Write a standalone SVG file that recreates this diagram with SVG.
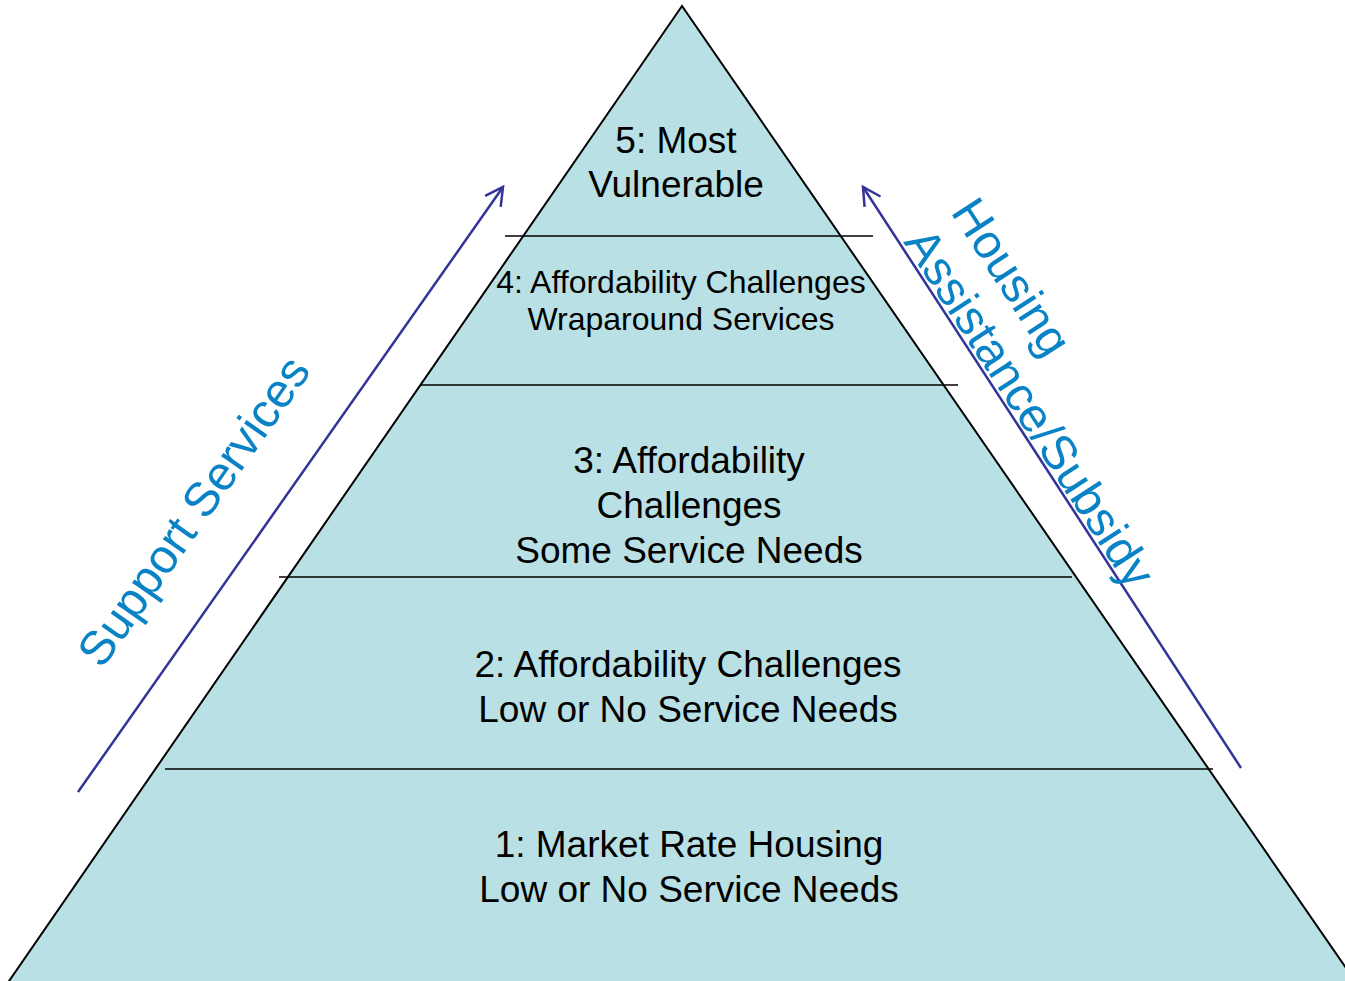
<svg xmlns="http://www.w3.org/2000/svg" width="1345" height="981" viewBox="0 0 1345 981">
<style>
.tier{font-family:"Liberation Sans",Arial,sans-serif;font-size:37px;fill:#000;text-anchor:middle}
.small{font-size:32px}
.side{font-family:"Liberation Sans",Arial,sans-serif;font-size:48px;fill:#0a83c6}
.div{stroke:#000;stroke-width:1.6}
.arrow{stroke:#33339a;stroke-width:2.5;fill:none}
</style>
<defs>
<marker id="open" markerUnits="userSpaceOnUse" markerWidth="30" markerHeight="30" viewBox="-25 -15 30 30" refX="0" refY="0" orient="auto">
<path d="M-17.5,-9.5 L0,0 L-17.5,9.5" fill="none" stroke="#33339a" stroke-width="2.5"/>
</marker>
</defs>
<g id="pyramid">
<polygon points="682,6 7,984 1357,984" fill="#b9e0e4" stroke="#000" stroke-width="2"/>
</g>
<g id="dividers">
<line class="div" x1="505" y1="236" x2="873" y2="236"/>
<line class="div" x1="420" y1="385" x2="958" y2="385"/>
<line class="div" x1="279" y1="577" x2="1072" y2="577"/>
<line class="div" x1="165" y1="769" x2="1213" y2="769"/>
</g>
<g id="tier5"><text class="tier" x="676" y="153">5: Most</text><text class="tier" x="676" y="197">Vulnerable</text></g>
<g id="tier4"><text class="tier small" x="681" y="293">4: Affordability Challenges</text><text class="tier small" x="681" y="330">Wraparound Services</text></g>
<g id="tier3"><text class="tier" x="689" y="473">3: Affordability</text><text class="tier" x="689" y="518">Challenges</text><text class="tier" x="689" y="563">Some Service Needs</text></g>
<g id="tier2"><text class="tier" x="688" y="677">2: Affordability Challenges</text><text class="tier" x="688" y="722">Low or No Service Needs</text></g>
<g id="tier1"><text class="tier" x="689" y="857">1: Market Rate Housing</text><text class="tier" x="689" y="902">Low or No Service Needs</text></g>
<g id="connectors">
<line class="arrow" x1="78" y1="792" x2="503" y2="187" marker-end="url(#open)"/>
<line class="arrow" x1="1241" y1="768" x2="863" y2="187" marker-end="url(#open)"/>
</g>
<g id="support-label"><text class="side" transform="translate(102,670) rotate(-54.9)">Support Services</text></g>
<g id="housing-label">
<text class="side" transform="translate(950,212) rotate(57)">Housing</text>
<text class="side" transform="translate(903,242) rotate(57)">Assistance/Subsidy</text>
</g>
</svg>
